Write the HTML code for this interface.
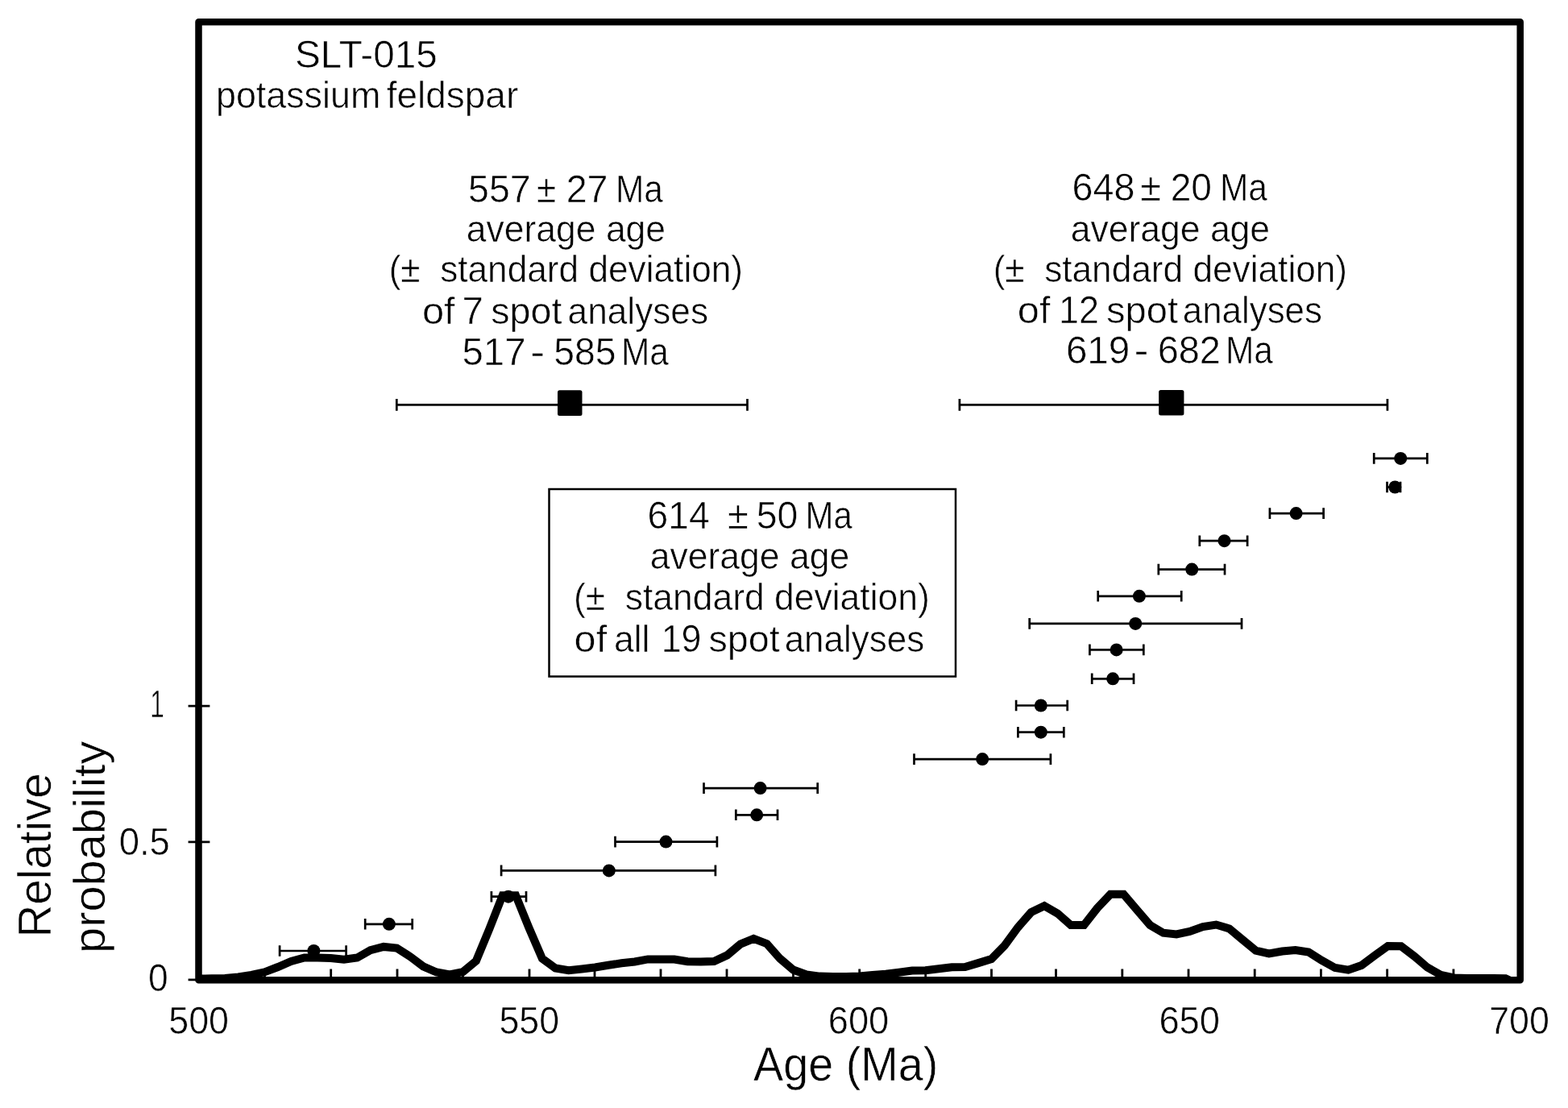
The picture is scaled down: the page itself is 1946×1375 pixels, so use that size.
<!DOCTYPE html><html><head><meta charset="utf-8"><style>html,body{margin:0;padding:0;background:#fff;}svg{display:block;}text{fill:#000;stroke:#fff;stroke-width:0.6px;font-family:"Liberation Sans", Arial, sans-serif;}</style></head><body>
<svg width="1946" height="1375" viewBox="0 0 1946 1375">
<rect x="0" y="0" width="1946" height="1375" fill="#fff"/>
<path d="M328.5 1216V1202.5 M410.7 1216V1202.5 M493.0 1216V1202.5 M574.5 1216V1202.5 M657.0 1216V1202.5 M738.0 1216V1202.5 M820.0 1216V1202.5 M902.0 1216V1202.5 M984.5 1216V1202.5 M1066.7 1216V1202.5 M1148.7 1216V1202.5 M1230.5 1216V1202.5 M1310.5 1216V1202.5 M1392.8 1216V1202.5 M1475.0 1216V1202.5 M1557.2 1216V1202.5 M1639.4 1216V1202.5 M1721.6 1216V1202.5 M1803.9 1216V1202.5 M233.6 1215.8H260.4 M233.6 1044.8H260.4 M233.6 876.2H260.4" stroke="#000" stroke-width="2.8" fill="none"/>
<defs><clipPath id="pc"><rect x="242" y="20" width="1650" height="1199"/></clipPath></defs>
<path d="M246.5 1214.5 L262.9 1214.3 L279.3 1214.0 L295.7 1212.4 L312.1 1209.9 L328.5 1206.3 L344.9 1200.0 L361.3 1193.0 L377.7 1188.5 L394.1 1188.5 L410.5 1189.0 L426.9 1190.7 L443.3 1188.5 L459.7 1179.2 L476.1 1174.9 L492.5 1176.5 L508.9 1187.0 L525.3 1199.3 L541.7 1206.5 L558.1 1209.5 L574.5 1206.2 L590.9 1192.5 L607.3 1152.8 L623.7 1111.2 L640.1 1111.2 L656.5 1151.5 L672.9 1189.5 L689.3 1201.5 L705.7 1204.2 L722.1 1202.5 L738.5 1200.5 L754.9 1197.8 L771.3 1195.3 L787.7 1193.5 L804.1 1190.4 L820.5 1190.4 L836.9 1190.6 L853.3 1193.2 L869.7 1193.5 L886.1 1193.0 L902.5 1185.4 L918.9 1171.6 L935.3 1164.9 L951.7 1171.2 L968.1 1189.7 L984.5 1203.5 L1000.9 1209.5 L1017.3 1211.6 L1033.7 1212.0 L1050.1 1212.0 L1066.5 1211.6 L1082.9 1210.0 L1099.3 1208.7 L1115.7 1206.7 L1132.1 1204.6 L1148.5 1204.2 L1164.9 1202.3 L1181.3 1200.3 L1197.7 1200.0 L1214.1 1195.1 L1230.5 1190.0 L1246.9 1173.2 L1263.3 1150.9 L1279.7 1132.1 L1296.1 1124.2 L1312.5 1133.6 L1328.9 1148.0 L1345.3 1148.0 L1361.7 1127.1 L1378.1 1109.8 L1394.5 1109.8 L1410.9 1129.1 L1427.3 1148.0 L1443.7 1157.7 L1460.1 1159.4 L1476.5 1155.9 L1492.9 1150.1 L1509.3 1147.5 L1525.7 1152.4 L1542.1 1166.2 L1558.5 1179.7 L1574.9 1183.4 L1591.3 1180.5 L1607.7 1179.0 L1624.1 1181.5 L1640.5 1191.9 L1656.9 1201.0 L1673.3 1203.7 L1689.7 1198.0 L1706.1 1185.8 L1722.5 1174.0 L1738.9 1174.2 L1755.3 1186.7 L1771.7 1200.7 L1788.1 1209.8 L1804.5 1213.5 L1820.9 1214.0 L1837.3 1214.0 L1853.7 1214.0 L1868.5 1214.2 L1873.5 1216.5" stroke="#000" stroke-width="10" fill="none" stroke-linejoin="miter" stroke-miterlimit="4" clip-path="url(#pc)"/>
<rect x="246.5" y="27.3" width="1640.2" height="1188.9" fill="none" stroke="#000" stroke-width="8.5" stroke-linejoin="round"/>
<path d="M347.1 1180.0H429.6M347.1 1173.2V1186.8M429.6 1173.2V1186.8 M453.2 1146.8H511.7M453.2 1140.0V1153.6M511.7 1140.0V1153.6 M609.9 1112.7H653.0M609.9 1105.9V1119.5M653.0 1105.9V1119.5 M622.1 1080.4H887.9M622.1 1073.6V1087.2M887.9 1073.6V1087.2 M763.5 1044.6H889.9M763.5 1037.8V1051.4M889.9 1037.8V1051.4 M913.3 1011.3H965.0M913.3 1004.5V1018.1M965.0 1004.5V1018.1 M873.5 978.1H1014.7M873.5 971.3V984.9M1014.7 971.3V984.9 M1134.5 942.1H1303.9M1134.5 935.3V948.9M1303.9 935.3V948.9 M1263.4 908.7H1320.3M1263.4 901.9V915.5M1320.3 901.9V915.5 M1261.1 875.5H1324.7M1261.1 868.7V882.3M1324.7 868.7V882.3 M1355.2 842.3H1407.0M1355.2 835.5V849.1M1407.0 835.5V849.1 M1352.4 806.4H1419.3M1352.4 799.6V813.2M1419.3 799.6V813.2 M1277.7 773.9H1541.0M1277.7 767.1V780.7M1541.0 767.1V780.7 M1362.7 739.8H1466.2M1362.7 733.0V746.6M1466.2 733.0V746.6 M1437.8 706.6H1520.0M1437.8 699.8V713.4M1520.0 699.8V713.4 M1488.8 671.2H1548.1M1488.8 664.4V678.0M1548.1 664.4V678.0 M1575.9 637.1H1642.6M1575.9 630.3V643.9M1642.6 630.3V643.9 M1721.5 604.5H1738.0M1721.5 597.7V611.3M1738.0 597.7V611.3 M1705.2 568.9H1771.3M1705.2 562.1V575.7M1771.3 562.1V575.7 M492.3 502.4H927.5M492.3 495V509.7M927.5 495V509.7 M1190.9 502.4H1721.9M1190.9 495V509.7M1721.9 495V509.7" stroke="#000" stroke-width="2.7" fill="none"/>
<g fill="#000"><circle cx="389.4" cy="1180.0" r="8"/><circle cx="482.9" cy="1146.8" r="8"/><circle cx="630.9" cy="1112.7" r="8"/><circle cx="755.8" cy="1080.4" r="8"/><circle cx="826.5" cy="1044.6" r="8"/><circle cx="939.2" cy="1011.3" r="8"/><circle cx="943.6" cy="978.1" r="8"/><circle cx="1219.2" cy="942.1" r="8"/><circle cx="1291.8" cy="908.7" r="8"/><circle cx="1291.8" cy="875.5" r="8"/><circle cx="1381.1" cy="842.3" r="8"/><circle cx="1385.6" cy="806.4" r="8"/><circle cx="1409.2" cy="773.9" r="8"/><circle cx="1413.9" cy="739.8" r="8"/><circle cx="1479.2" cy="706.6" r="8"/><circle cx="1519.5" cy="671.2" r="8"/><circle cx="1608.6" cy="637.1" r="8"/><circle cx="1731.3" cy="604.5" r="8"/><circle cx="1738.2" cy="568.9" r="8"/></g>
<rect x="692" y="484.3" width="30.5" height="31.6" rx="2.5" fill="#000"/>
<rect x="1438.1" y="484.1" width="31.3" height="31.3" rx="2.5" fill="#000"/>
<rect x="681.5" y="607" width="504.5" height="232.5" fill="none" stroke="#000" stroke-width="2.5"/>
<text x="365.95" y="83.70" font-size="47.6" textLength="176.81" lengthAdjust="spacingAndGlyphs" xml:space="preserve">SLT-015</text>
<text x="578.81" y="300.20" font-size="45.8" textLength="247.29" lengthAdjust="spacingAndGlyphs" xml:space="preserve">average age</text>
<text x="482.64" y="350.30" font-size="45.8" textLength="439.46" lengthAdjust="spacingAndGlyphs" xml:space="preserve">(±  standard deviation)</text>
<text x="1328.81" y="299.80" font-size="45.8" textLength="247.29" lengthAdjust="spacingAndGlyphs" xml:space="preserve">average age</text>
<text x="1232.64" y="349.80" font-size="45.8" textLength="439.46" lengthAdjust="spacingAndGlyphs" xml:space="preserve">(±  standard deviation)</text>
<text x="806.81" y="705.80" font-size="45.8" textLength="247.39" lengthAdjust="spacingAndGlyphs" xml:space="preserve">average age</text>
<text x="711.92" y="756.50" font-size="45.8" textLength="441.89" lengthAdjust="spacingAndGlyphs" xml:space="preserve">(±  standard deviation)</text>
<text x="209.31" y="1282.80" font-size="49.0" textLength="74.72" lengthAdjust="spacingAndGlyphs" xml:space="preserve">500</text>
<text x="619.41" y="1282.60" font-size="49.0" textLength="74.61" lengthAdjust="spacingAndGlyphs" xml:space="preserve">550</text>
<text x="1027.74" y="1282.80" font-size="49.0" textLength="75.51" lengthAdjust="spacingAndGlyphs" xml:space="preserve">600</text>
<text x="1438.43" y="1282.60" font-size="49.0" textLength="75.61" lengthAdjust="spacingAndGlyphs" xml:space="preserve">650</text>
<text x="1848.15" y="1282.80" font-size="49.0" textLength="74.67" lengthAdjust="spacingAndGlyphs" xml:space="preserve">700</text>
<text x="183.92" y="1229.90" font-size="49.0" textLength="24.69" lengthAdjust="spacingAndGlyphs" xml:space="preserve">0</text>
<text x="147.68" y="1060.70" font-size="49.0" textLength="63.25" lengthAdjust="spacingAndGlyphs" xml:space="preserve">0.5</text>
<text x="186.34" y="889.60" font-size="49.0" textLength="17.49" lengthAdjust="spacingAndGlyphs" xml:space="preserve">1</text>
<text x="935.06" y="1341.30" font-size="58.9" textLength="229.22" lengthAdjust="spacingAndGlyphs" xml:space="preserve">Age (Ma)</text>
<text x="267.99" y="133.90" font-size="45.8" textLength="204.24" lengthAdjust="spacingAndGlyphs" xml:space="preserve">potassium</text>
<text x="479.81" y="133.90" font-size="45.8" textLength="163.39" lengthAdjust="spacingAndGlyphs" xml:space="preserve">feldspar</text>
<text x="581.04" y="251.10" font-size="47.6" textLength="77.63" lengthAdjust="spacingAndGlyphs" xml:space="preserve">557</text>
<text x="666.07" y="251.10" font-size="47.6" textLength="24.22" lengthAdjust="spacingAndGlyphs" xml:space="preserve">±</text>
<text x="702.67" y="251.10" font-size="47.6" textLength="51.87" lengthAdjust="spacingAndGlyphs" xml:space="preserve">27</text>
<text x="763.90" y="251.10" font-size="47.6" textLength="58.97" lengthAdjust="spacingAndGlyphs" xml:space="preserve">Ma</text>
<text x="1330.57" y="249.10" font-size="47.6" textLength="77.76" lengthAdjust="spacingAndGlyphs" xml:space="preserve">648</text>
<text x="1415.27" y="249.10" font-size="47.6" textLength="25.80" lengthAdjust="spacingAndGlyphs" xml:space="preserve">±</text>
<text x="1452.70" y="249.10" font-size="47.6" textLength="51.24" lengthAdjust="spacingAndGlyphs" xml:space="preserve">20</text>
<text x="1513.90" y="249.10" font-size="47.6" textLength="58.97" lengthAdjust="spacingAndGlyphs" xml:space="preserve">Ma</text>
<text x="803.59" y="655.90" font-size="47.6" textLength="77.13" lengthAdjust="spacingAndGlyphs" xml:space="preserve">614</text>
<text x="902.97" y="655.90" font-size="47.6" textLength="25.80" lengthAdjust="spacingAndGlyphs" xml:space="preserve">±</text>
<text x="938.65" y="655.90" font-size="47.6" textLength="51.50" lengthAdjust="spacingAndGlyphs" xml:space="preserve">50</text>
<text x="999.54" y="655.90" font-size="47.6" textLength="58.23" lengthAdjust="spacingAndGlyphs" xml:space="preserve">Ma</text>
<text x="523.92" y="401.60" font-size="45.8" textLength="40.73" lengthAdjust="spacingAndGlyphs" xml:space="preserve">of</text>
<text x="573.41" y="401.60" font-size="47.6" textLength="26.43" lengthAdjust="spacingAndGlyphs" xml:space="preserve">7</text>
<text x="609.22" y="401.60" font-size="45.8" textLength="88.24" lengthAdjust="spacingAndGlyphs" xml:space="preserve">spot</text>
<text x="704.62" y="401.60" font-size="45.8" textLength="174.40" lengthAdjust="spacingAndGlyphs" xml:space="preserve">analyses</text>
<text x="1262.83" y="401.30" font-size="45.8" textLength="40.62" lengthAdjust="spacingAndGlyphs" xml:space="preserve">of</text>
<text x="1313.93" y="401.30" font-size="47.6" textLength="50.03" lengthAdjust="spacingAndGlyphs" xml:space="preserve">12</text>
<text x="1373.01" y="401.30" font-size="45.8" textLength="88.96" lengthAdjust="spacingAndGlyphs" xml:space="preserve">spot</text>
<text x="1467.84" y="401.30" font-size="45.8" textLength="173.07" lengthAdjust="spacingAndGlyphs" xml:space="preserve">analyses</text>
<text x="712.64" y="808.60" font-size="45.8" textLength="40.52" lengthAdjust="spacingAndGlyphs" xml:space="preserve">of</text>
<text x="761.91" y="808.60" font-size="45.8" textLength="44.52" lengthAdjust="spacingAndGlyphs" xml:space="preserve">all</text>
<text x="820.74" y="808.60" font-size="47.6" textLength="49.77" lengthAdjust="spacingAndGlyphs" xml:space="preserve">19</text>
<text x="879.52" y="808.60" font-size="45.8" textLength="88.14" lengthAdjust="spacingAndGlyphs" xml:space="preserve">spot</text>
<text x="973.63" y="808.60" font-size="45.8" textLength="173.58" lengthAdjust="spacingAndGlyphs" xml:space="preserve">analyses</text>
<text x="573.40" y="453.10" font-size="47.6" textLength="79.12" lengthAdjust="spacingAndGlyphs" xml:space="preserve">517</text>
<text x="658.17" y="453.10" font-size="47.6" textLength="17.99" lengthAdjust="spacingAndGlyphs" xml:space="preserve">-</text>
<text x="687.15" y="453.10" font-size="47.6" textLength="77.25" lengthAdjust="spacingAndGlyphs" xml:space="preserve">585</text>
<text x="770.90" y="453.10" font-size="47.6" textLength="58.97" lengthAdjust="spacingAndGlyphs" xml:space="preserve">Ma</text>
<text x="1322.92" y="451.10" font-size="47.6" textLength="79.37" lengthAdjust="spacingAndGlyphs" xml:space="preserve">619</text>
<text x="1407.47" y="451.10" font-size="47.6" textLength="17.99" lengthAdjust="spacingAndGlyphs" xml:space="preserve">-</text>
<text x="1436.66" y="451.10" font-size="47.6" textLength="78.24" lengthAdjust="spacingAndGlyphs" xml:space="preserve">682</text>
<text x="1520.90" y="451.10" font-size="47.6" textLength="58.97" lengthAdjust="spacingAndGlyphs" xml:space="preserve">Ma</text>
<text transform="translate(63.10 1163.46) rotate(-90)" x="0" y="0" font-size="57.6" textLength="204.19" lengthAdjust="spacingAndGlyphs">Relative</text>
<text transform="translate(130.30 1182.96) rotate(-90)" x="0" y="0" font-size="55.6" textLength="263.45" lengthAdjust="spacingAndGlyphs">probability</text>
</svg></body></html>
